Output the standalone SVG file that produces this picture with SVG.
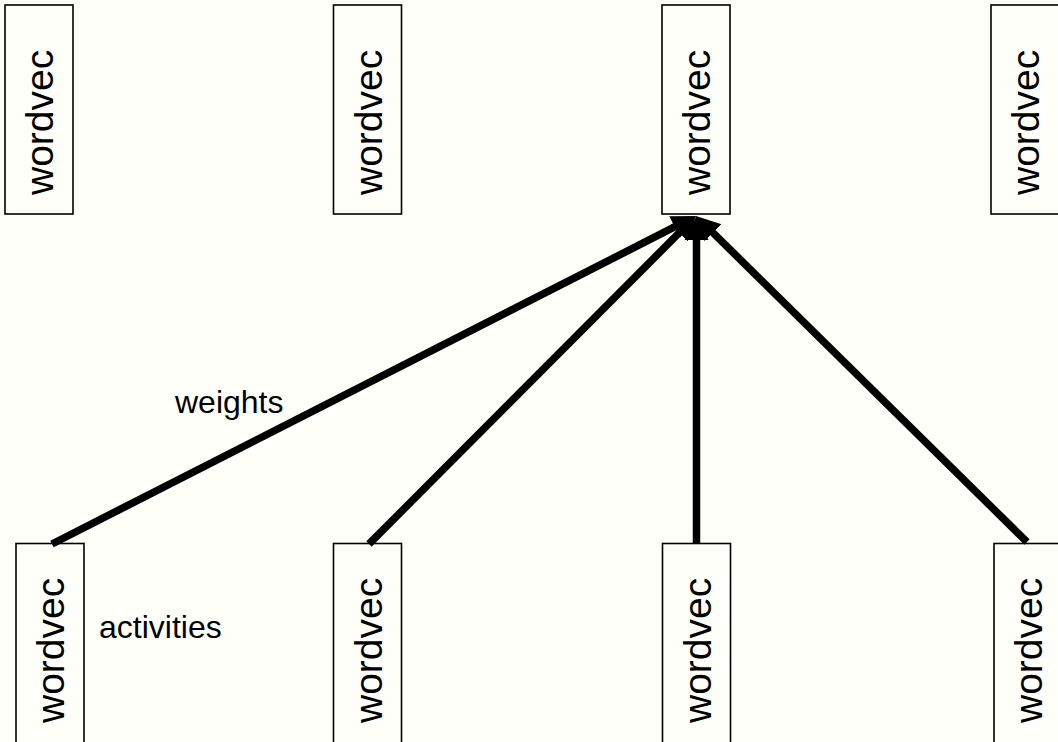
<svg xmlns="http://www.w3.org/2000/svg" width="1058" height="742" viewBox="0 0 1058 742">
  <style>
    .box { fill: #fffffa; stroke: #000; stroke-width: 1.6; }
    .lbl { font-family: "Liberation Sans", Arial, sans-serif; font-size: 39px; fill: #000; }
    .note { font-family: "Liberation Sans", Arial, sans-serif; font-size: 32px; fill: #000; }
    .edge { stroke: #000; stroke-width: 7.5; fill: none; marker-end: url(#head); }
  </style>
  <defs>
    <marker id="head" markerUnits="userSpaceOnUse" markerWidth="26" markerHeight="26" viewBox="0 0 26 26" refX="6" refY="13" orient="auto">
      <path d="M0,1 L24,13 L0,25 z" fill="#000"/>
    </marker>
  </defs>
  <rect width="1058" height="742" fill="#fffffa"/>

  <!-- upper row -->
  <g id="top1"><rect class="box" x="5" y="5" width="68" height="209"/><text class="lbl" transform="translate(53,195) rotate(-90)">wordvec</text></g>
  <g id="top2"><rect class="box" x="333.5" y="5" width="68" height="209"/><text class="lbl" transform="translate(381.5,195) rotate(-90)">wordvec</text></g>
  <g id="top3"><rect class="box" x="662" y="5" width="68" height="209"/><text class="lbl" transform="translate(710,195) rotate(-90)">wordvec</text></g>
  <g id="top4"><rect class="box" x="991" y="5" width="68" height="209"/><text class="lbl" transform="translate(1039,195) rotate(-90)">wordvec</text></g>

  <!-- lower row -->
  <g id="bot1"><rect class="box" x="16" y="543.5" width="68" height="210"/><text class="lbl" transform="translate(64,723) rotate(-90)">wordvec</text></g>
  <g id="bot2"><rect class="box" x="333.5" y="543.5" width="68" height="210"/><text class="lbl" transform="translate(381.5,723) rotate(-90)">wordvec</text></g>
  <g id="bot3"><rect class="box" x="662.5" y="543.5" width="68" height="210"/><text class="lbl" transform="translate(710.5,723) rotate(-90)">wordvec</text></g>
  <g id="bot4"><rect class="box" x="994" y="543.5" width="68" height="210"/><text class="lbl" transform="translate(1042,723) rotate(-90)">wordvec</text></g>

  <!-- connectors: lines stop short of the shared tip so the heads finish them -->
  <g id="edges">
    <line class="edge" x1="52" y1="544" x2="680.0" y2="224.2"/>
    <line class="edge" x1="369" y1="544" x2="683.3" y2="228.7"/>
    <line class="edge" x1="696.5" y1="544" x2="696.5" y2="234"/>
    <line class="edge" x1="1027" y1="542" x2="708.8" y2="228.6"/>
  </g>

  <text class="note" x="175" y="413">weights</text>
  <text class="note" x="99" y="638">activities</text>
</svg>
